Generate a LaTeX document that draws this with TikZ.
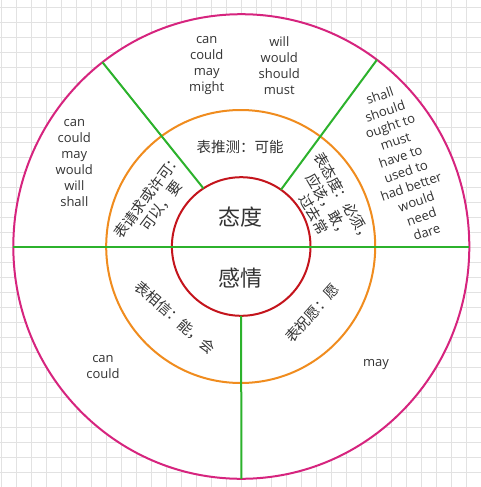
\documentclass[tikz,border=0pt]{standalone}
\usepackage{fontspec}
\setmainfont{Noto Sans CJK SC}
\newfontfamily\latinface{Open Sans}
\usepackage{tikz}
\usetikzlibrary{shapes.geometric,positioning}
\definecolor{rimpink}{RGB}{214,36,126}
\definecolor{ringorange}{RGB}{240,140,30}
\definecolor{corered}{RGB}{196,20,28}
\definecolor{spokegreen}{RGB}{44,178,44}
\definecolor{gridgray}{RGB}{226,226,226}
\definecolor{inkgray}{RGB}{51,51,51}

\begin{document}
\begin{tikzpicture}[x=1pt,y=-1pt,
    band/.style={ellipse,line width=2pt,inner sep=0pt,outer sep=0pt},
    modals/.style={align=center,text=inkgray,font=\latinface\fontsize{13}{16}\selectfont},
    usage/.style={align=center,text=inkgray,font=\fontsize{14.5}{17}\selectfont},
    hub/.style={text=inkgray,font=\fontsize{22}{26}\selectfont}]
 %the paper
    \useasboundingbox (0,0) rectangle (481,487);
    \foreach \gx in {1.5,16.5,...,481} \draw[gridgray,line width=0.8pt] (\gx,0) -- (\gx,487);
    \foreach \gy in {7.5,22.5,...,487} \draw[gridgray,line width=0.8pt] (0,\gy) -- (481,\gy);

 %the three rings
    \node[band,draw=rimpink,fill=white,minimum width=456,minimum height=464.6] (rim) at (241.3,246.5) {};
    \node[band,draw=ringorange,minimum width=269,minimum height=273] (ring) at (240.7,246.5) {};
    \node[band,draw=corered,minimum size=138.6] (core) at (241.2,246.5) {};

 %the spokes
    \begin{scope}[every path/.style={draw=spokegreen,line width=2pt}]
       \draw (rim.180) -- (rim.0);
       \draw (core.-90) -- (rim.-90);
       \draw (core.123) -- (rim.127);
       \draw (core.55) -- (rim.54);
    \end{scope}

 %the hub
    \node[hub] (att) at (240,216.7) {态度};
    \node[hub] (emo) at (240.7,278.3) {感情};

 %the usages
    \node[usage] (uTop) at (240,147.3) {表推测：可能};
    \node[usage,rotate=53] (uLeft) at (154.5,201) {表请求或许可：\\可以，要};
    \node[usage,rotate=-60] (uRight) at (328.6,205.8) {表态度：必须，\\应该，敢，\\过去常};
    \node[usage,rotate=-41] (uBL) at (175,317.3) {表相信：能，会};
    \node[usage,rotate=48] (uBR) at (312.3,313.3) {表祝愿：愿};

 %the modal verbs
    \node[modals] (mTL) at (206.7,65.5) {can\\could\\may\\might};
    \node[modals] (mTR) at (279.3,65.5) {will\\would\\should\\must};
    \node[modals] (mL) at (74.3,163.5) {can\\could\\may\\would\\will\\shall};
    \node[modals,rotate=19] (mR) at (403.2,163.8) {shall\\should\\ought to\\must\\have to\\used to\\had better\\would\\need\\dare};
    \node[modals] (mBL) at (103,367.5) {can\\could};
    \node[modals] (mBR) at (376,365) {may};
\end{tikzpicture}
\end{document}
